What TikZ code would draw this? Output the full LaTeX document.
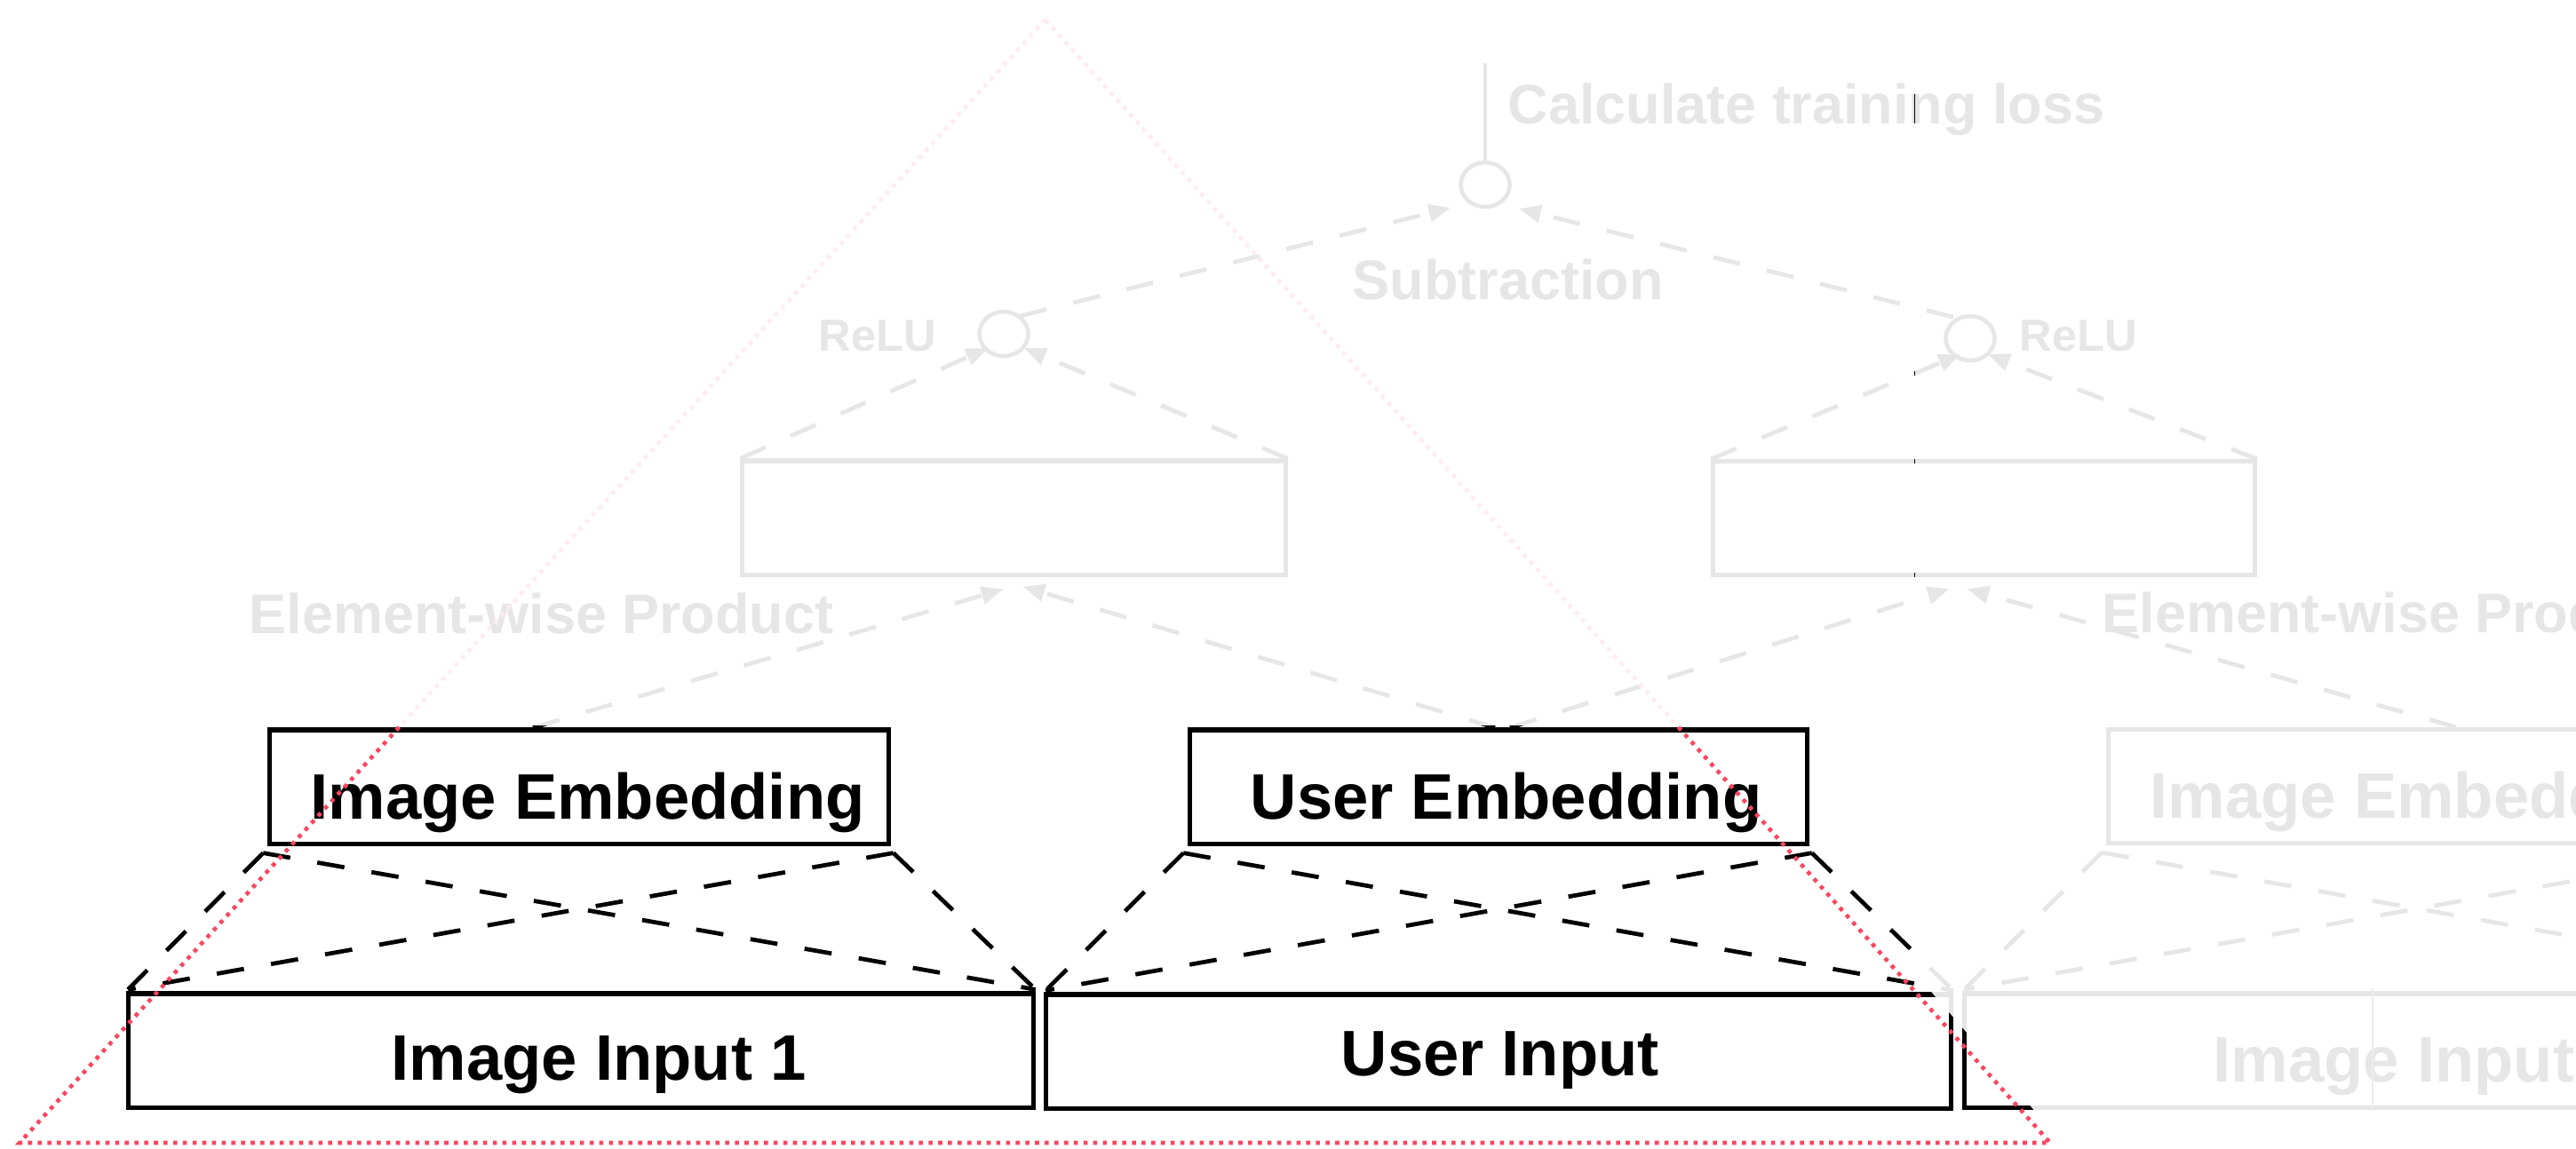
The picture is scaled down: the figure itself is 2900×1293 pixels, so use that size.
\documentclass[tikz,border=0pt]{standalone}
\usepackage{fontspec}
\setmainfont{Liberation Sans}
\usetikzlibrary{arrows.meta,calc,shapes.geometric}
\definecolor{redline}{RGB}{250,70,95}
\definecolor{seamgrey}{RGB}{236,236,236}
\begin{document}
\begin{tikzpicture}[x=0.01cm,y=-0.01cm,
  box/.style={draw=black,line width=1.45pt,rectangle,inner sep=0pt,minimum height=1.28cm},
  op/.style={draw=black,line width=1.3pt,ellipse,inner sep=0pt,minimum width=0.55cm,minimum height=0.50cm},
  plainline/.style={draw=black,line width=1pt},
  conn/.style={draw=black,line width=1.35pt,dash pattern=on 8.8pt off 8.8pt},
  arr/.style={conn,-{Triangle[length=7pt,width=5.5pt]}},
  lbl/.style={font=\bfseries\fontsize{17.9}{20}\selectfont,inner sep=0pt,anchor=base west},
  boxtxt/.style={font=\bfseries\fontsize{20.6}{24}\selectfont,inner sep=0pt,anchor=base west},
  smalllbl/.style={font=\bfseries\fontsize{14.4}{17}\selectfont,inner sep=0pt,anchor=base west},
  fade/.style={fill=white,fill opacity=0.9,draw=none},
  hilite/.style={draw=redline,line width=1.3pt,dash pattern=on 1.3pt off 1.8pt}
]
\useasboundingbox (0,0) rectangle (2900,1293);
\clip (0,0) rectangle (2900,1293);

% boxes
\node[box,minimum width=6.96cm] (emb1) at (652,886) {};
\node[box,minimum width=6.94cm] (emb2) at (1687,886) {};
\node[box,minimum width=6.96cm] (emb3) at (2722,885.5) {};
\node[box,minimum width=10.18cm] (in1) at (654,1183) {};
\node[box,minimum width=10.18cm] (in2) at (1687,1184) {};
\node[box,minimum width=10.18cm] (in3) at (2721,1183) {};
\node[box,minimum width=6.11cm] (prod1) at (1141.5,583) {};
\node[box,minimum width=6.09cm] (prod2) at (2233.5,583.5) {};
\node[op] (relu1) at (1130,376) {};
\node[op] (relu2) at (2218,381) {};
\node[op] (sub) at (1672,208) {};

% texts
\node[lbl] (losslbl) at (1697,139) {Calculate training loss};
\node[lbl] (sublbl) at (1522,337) {Subtraction};
\node[smalllbl] (relulbl1) at (921,395) {ReLU};
\node[smalllbl] (relulbl2) at (2273,395) {ReLU};
\node[lbl] (ewp1) at (280,713) {Element-wise Product};
\node[lbl] (ewp2) at (2366,712) {Element-wise Product};
\node[boxtxt] (t1) at (349,922) {Image Embedding};
\node[boxtxt] (t2) at (1407,922) {User Embedding};
\node[boxtxt] (t3) at (2420,921) {Image Embedding};
\node[boxtxt] (t4) at (440,1216) {Image Input 1};
\node[boxtxt] (t5) at (1509,1211) {User Input};
\node[boxtxt] (t6) at (2491,1218) {Image Input};

% top connectors
\coordinate (losstop) at (1672,71);
\draw[plainline] (losstop) -- (sub.north);
\draw[arr] ($(relu1)+(18,-20)$) -- ($(sub)+(-39,26)$);
\draw[arr] ($(relu2)+(-19,-24)$) -- ($(sub)+(38,27)$);
\draw[arr] (prod1.north west) -- ($(relu1)+(-18,16)$);
\draw[arr] (prod1.north east) -- ($(relu1)+(23,16)$);
\draw[arr] (prod2.north west) -- ($(relu2)+(-11,18)$);
\draw[arr] (prod2.north east) -- ($(relu2)+(20,18)$);
\draw[arr] ($(emb1.north)+(-52,0)$) -- ($(prod1.south)+(-12,14)$);
\draw[arr] ($(emb2.north)+(-4,0)$) -- ($(prod1.south)+(10,11)$);
\draw[arr] ($(emb2.north)+(13,0)$) -- ($(prod2.south)+(-39,13)$);
\draw[arr] ($(emb3.north)+(43,0)$) -- ($(prod2.south)+(-19,13)$);

% bottom connectors
\foreach \e/\i in {emb1/in1,emb2/in2,emb3/in3}{
  \draw[conn] ($(\e.south west)+(-5,8)$) -- ($(\i.north west)+(2,-2)$);
  \draw[conn] ($(\e.south west)+(-5,8)$) -- ($(\i.north east)+(0,-2)$);
  \draw[conn] ($(\e.south east)+(3,8)$) -- ($(\i.north west)+(2,-2)$);
  \draw[conn] ($(\e.south east)+(3,8)$) -- ($(\i.north east)+(0,-2)$);
}

% highlight triangle
\coordinate (apex) at (1177,22);
\coordinate (bl) at (22,1287);
\coordinate (br) at (2308,1287);
\draw[hilite] (apex) -- (bl) -- (br) -- cycle;

% faded overlay
\fill[fade] (0,0) rectangle (2154.5,817);
\fill[fade] (2156,0) -- (2900,0) -- (2900,1293) -- (2327,1293) -- (2156,1096) -- cycle;
\draw[seamgrey,line width=0.8pt] (2671,1113) -- (2671,1249);
\end{tikzpicture}
\end{document}
